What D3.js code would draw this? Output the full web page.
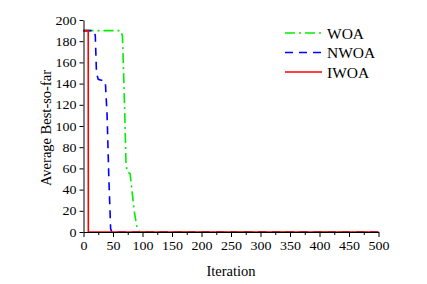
<!DOCTYPE html>
<html lang="en">
<head>
  <meta charset="UTF-8">
  <title>Average Best-so-far</title>
  <script src="https://cdnjs.cloudflare.com/ajax/libs/d3/7.8.5/d3.min.js"></script>
  <style>
    body { margin: 0; background: white; }
    svg { display: block; font-family: "Liberation Serif", "Times New Roman", serif; }
    .axis path, .axis line { stroke: black; }
    .axis text { font-size: 13px; fill: black; font-family: "Liberation Serif", serif; }
  </style>
</head>
<body>
  <script>
    // iterations / average best-so-far
    var woaIter = [0, 63, 66, 68, 70, 72, 74, 79, 82, 86, 90, 95, 500];
    var woaVal  = [190, 190, 185, 150, 110, 65, 57, 55, 40, 20, 6, 0, 0];
    var nwoaIter = [0, 18, 20, 22, 25, 37, 40, 43, 46, 48, 500];
    var nwoaVal  = [190, 190, 185, 150, 144, 142, 110, 50, 3, 0, 0];
    var iwoaIter = [0, 8, 8.2, 500];
    var iwoaVal  = [190, 190, 0, 0];

    var seriesNames = ["WOA", "NWOA", "IWOA"];
    var seriesColors = ["#00ee00", "#0000ff", "#ff0000"];
    var seriesDash = ["10,4,2,4", "8,6", null];

    var xTicks = d3.range(0, 501, 50);
    var yTicks = d3.range(0, 201, 20);

    var w = 427, h = 284;
    var padL = 83.5, padR = 378.5, padT = 20, padB = 232;

    var svg = d3.select("body").append("svg")
      .attr("width", w)
      .attr("height", h);

    var xScale = d3.scaleLinear().domain([0, 500]).range([padL, padR]);
    var yScale = d3.scaleLinear().domain([0, 200]).range([padB, padT]);

    var data = [
      d3.zip(woaIter, woaVal),
      d3.zip(nwoaIter, nwoaVal),
      d3.zip(iwoaIter, iwoaVal)
    ];

    var line = d3.line()
      .x(function(d) { return xScale(d[0]); })
      .y(function(d) { return yScale(d[1]); });

    svg.selectAll("path.series")
      .data(data)
      .enter()
      .append("path")
      .attr("class", "series")
      .attr("d", line)
      .attr("fill", "none")
      .attr("stroke", function(d, i) { return seriesColors[i]; })
      .attr("stroke-width", 1.6)
      .attr("stroke-dasharray", function(d, i) { return seriesDash[i]; });

    // the original's digits are a bit stretched sideways
    function widen(g) {
      g.selectAll("text")
        .attr("textLength", function() { return this.textContent.length * 7; })
        .attr("lengthAdjust", "spacingAndGlyphs");
    }

    // minor x ticks
    var xMinor = d3.axisBottom(xScale)
      .tickValues(d3.range(25, 500, 50))
      .tickSize(3)
      .tickFormat("");
    svg.append("g")
      .attr("class", "axis")
      .attr("transform", "translate(0," + padB + ")")
      .call(xMinor)
      .call(function(g) { g.select(".domain").remove(); });

    var xAxis = d3.axisBottom(xScale)
      .tickValues(xTicks)
      .tickSize(5)
      .tickSizeOuter(0)
      .tickPadding(4);
    svg.append("g")
      .attr("class", "axis")
      .attr("transform", "translate(0," + padB + ")")
      .call(xAxis)
      .call(widen);

    var yAxis = d3.axisLeft(yScale)
      .tickValues(yTicks)
      .tickSize(4)
      .tickSizeOuter(0)
      .tickPadding(3);
    svg.append("g")
      .attr("class", "axis")
      .attr("transform", "translate(" + padL + ",0)")
      .call(yAxis)
      .call(widen);

    svg.append("text")
      .attr("x", 231)
      .attr("y", 276)
      .attr("text-anchor", "middle")
      .attr("font-size", "14.5px")
      .text("Iteration");

    svg.append("text")
      .attr("transform", "translate(51,128) rotate(-90)")
      .attr("text-anchor", "middle")
      .attr("font-size", "14.5px")
      .text("Average Best-so-far");

    // legend
    var legend = svg.selectAll("g.legend")
      .data(seriesNames)
      .enter()
      .append("g")
      .attr("class", "legend")
      .attr("transform", function(d, i) { return "translate(285," + (33 + i * 19.5) + ")"; });

    legend.append("line")
      .attr("x1", 0)
      .attr("x2", 37)
      .attr("stroke", function(d, i) { return seriesColors[i]; })
      .attr("stroke-width", 1.6)
      .attr("stroke-dasharray", function(d, i) { return seriesDash[i]; });

    legend.append("text")
      .attr("x", 42)
      .attr("y", 5.5)
      .attr("font-size", "15.5px")
      .text(function(d) { return d; });
  </script>
</body>
</html>
